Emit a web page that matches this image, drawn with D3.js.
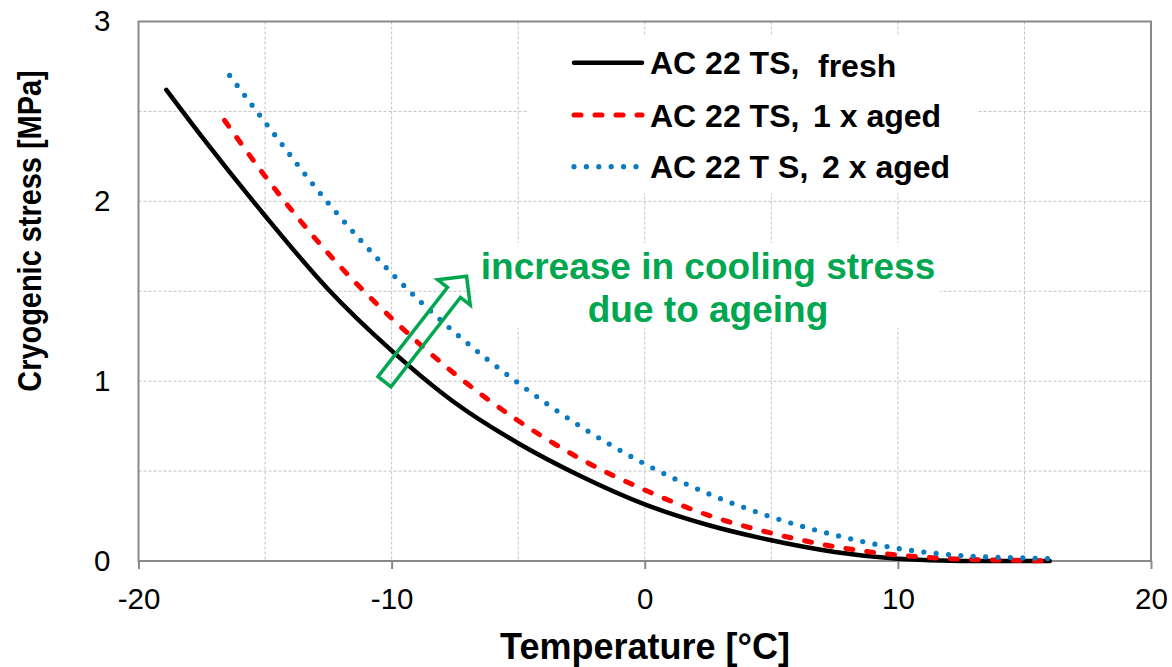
<!DOCTYPE html>
<html>
<head>
<meta charset="utf-8">
<script src="https://cdn.jsdelivr.net/npm/d3@7"></script>
<style>
  html, body { margin: 0; padding: 0; background: #fff; }
  svg { display: block; font-family: "Liberation Sans", Arial, sans-serif; }
</style>
</head>
<body>
<svg id="chart" width="1172" height="667"></svg>
<script>
// Cryogenic stress vs. temperature for AC 22 TS at three ageing states
const freshTemp = [-18.9, -17.5, -15, -12.5, -10, -7.5, -5, -2.5, 0, 2.5, 5, 7.5, 10, 12.5, 16];
const freshStress = [2.62, 2.36, 1.92, 1.51, 1.17, 0.88, 0.655, 0.47, 0.315, 0.2, 0.115, 0.05, 0.012, 0, 0];

const aged1Temp = [-16.6, -15, -12.5, -10, -7.5, -5, -2.5, 0, 2.5, 5, 7.5, 10, 12.5, 15, 16];
const aged1Stress = [2.45, 2.14, 1.71, 1.35, 1.04, 0.78, 0.565, 0.395, 0.255, 0.155, 0.08, 0.033, 0.01, 0.003, 0];

const aged2Temp = [-16.4, -15, -12.5, -10, -7.5, -5, -2.5, 0, 2.5, 5, 7.5, 10, 12.5, 15, 16];
const aged2Stress = [2.70, 2.44, 1.99, 1.60, 1.27, 0.99, 0.745, 0.54, 0.375, 0.245, 0.145, 0.07, 0.03, 0.017, 0.013];

const seriesLabels = ["AC 22 TS,", "AC 22 TS,", "AC 22 T S,"];
const seriesStates = ["fresh", "1 x aged", "2 x aged"];

const xTicks = [-20, -10, 0, 10, 20];
const xGrid = [-15, -10, -5, 0, 5, 10, 15];
const yTicks = [0, 1, 2, 3];
const yGrid = [0.5, 1, 1.5, 2, 2.5];

const note = ["increase in cooling stress", "due to ageing"];
const xTitle = "Temperature [°C]";
const yTitle = "Cryogenic stress [MPa]";

const svg = d3.select("#chart");
const plot = { left: 138.5, right: 1151, top: 21.5, bottom: 561 };

const x = d3.scaleLinear().domain([-20, 20]).range([plot.left, plot.right]);
const y = d3.scaleLinear().domain([0, 3]).range([plot.bottom, plot.top]);

const gridColor = "#c2c2c2";
const axisColor = "#898989";
const green = "#00A650";
const plainNumber = d => String(d);   // keeps the ASCII hyphen for negatives

// dashed grid
const grid = svg.append("g");
grid.selectAll("line.vx").data(xGrid).join("line")
  .attr("x1", d => x(d)).attr("x2", d => x(d))
  .attr("y1", plot.top).attr("y2", plot.bottom)
  .attr("stroke", gridColor).attr("stroke-width", 1).attr("stroke-dasharray", "3,2");
grid.selectAll("line.hy").data(yGrid).join("line")
  .attr("x1", plot.left).attr("x2", plot.right)
  .attr("y1", d => y(d)).attr("y2", d => y(d))
  .attr("stroke", gridColor).attr("stroke-width", 1).attr("stroke-dasharray", "3,2");

// x axis ticks and labels
const xAxis = svg.append("g")
  .attr("transform", `translate(0,${plot.bottom})`)
  .call(d3.axisBottom(x).tickValues(xTicks).tickSize(8).tickSizeOuter(0).tickPadding(19).tickFormat(plainNumber));
xAxis.select(".domain").remove();
xAxis.selectAll(".tick line").attr("stroke", axisColor).attr("stroke-width", 2);
xAxis.selectAll(".tick text").attr("font-size", 29.5).attr("fill", "#000")
  .attr("font-family", "'Liberation Sans', Arial, sans-serif");

// y axis labels
const yAxis = svg.append("g")
  .attr("transform", `translate(${plot.left},0)`)
  .call(d3.axisLeft(y).tickValues(yTicks).tickSize(0).tickPadding(28).tickFormat(plainNumber));
yAxis.select(".domain").remove();
yAxis.selectAll(".tick text").attr("font-size", 29.5).attr("fill", "#000")
  .attr("font-family", "'Liberation Sans', Arial, sans-serif");

// plot frame
svg.append("rect")
  .attr("x", plot.left).attr("y", plot.top)
  .attr("width", plot.right - plot.left).attr("height", plot.bottom - plot.top)
  .attr("fill", "none").attr("stroke", axisColor).attr("stroke-width", 2);

// white boxes behind legend and note
svg.append("rect").attr("x", 527).attr("y", 35).attr("width", 450).attr("height", 158).attr("fill", "#fff");
svg.append("rect").attr("x", 475).attr("y", 243).attr("width", 465).attr("height", 85).attr("fill", "#fff");

// curves
const line = d3.line().x(d => x(d[0])).y(d => y(d[1])).curve(d3.curveMonotoneX);
const styles = [
  { color: "#000000", width: 4.5, dash: null, cap: "round" },
  { color: "#FF0000", width: 5, dash: "7,14", cap: "round" },
  { color: "#0B7BC1", width: 5.2, dash: "0,12.4", cap: "round" }
];
const series = [
  d3.zip(freshTemp, freshStress),
  d3.zip(aged1Temp, aged1Stress),
  d3.zip(aged2Temp, aged2Stress)
];
series.forEach((pts, i) => {
  const s = styles[i];
  svg.append("path")
    .attr("d", line(pts))
    .attr("fill", "none")
    .attr("stroke", s.color)
    .attr("stroke-width", s.width)
    .attr("stroke-linecap", s.cap)
    .attr("stroke-linejoin", "round")
    .attr("stroke-dasharray", s.dash);
});

// legend
const legendRows = [
  { lineY: 62.7, textY: 73.5, stateX: 818, stateY: 76.5 },
  { lineY: 115, textY: 126.5, stateX: 813, stateY: 127 },
  { lineY: 166.7, textY: 177.5, stateX: 822, stateY: 178 }
];
legendRows.forEach((r, i) => {
  const s = styles[i];
  svg.append("line")
    .attr("x1", 574).attr("x2", 642).attr("y1", r.lineY).attr("y2", r.lineY)
    .attr("stroke", s.color).attr("stroke-width", s.width)
    .attr("stroke-linecap", s.cap).attr("stroke-dasharray", s.dash);
  svg.append("text")
    .attr("x", 650).attr("y", r.textY)
    .attr("font-size", 32).attr("font-weight", "bold").attr("fill", "#000")
    .text(seriesLabels[i]);
  svg.append("text")
    .attr("x", r.stateX).attr("y", r.stateY)
    .attr("font-size", 32).attr("font-weight", "bold").attr("fill", "#000")
    .text(seriesStates[i]);
});

// annotation text
svg.append("text").attr("x", 708).attr("y", 278.5)
  .attr("text-anchor", "middle").attr("font-size", 37).attr("font-weight", "bold")
  .attr("fill", green).text(note[0]);
svg.append("text").attr("x", 708).attr("y", 321.5)
  .attr("text-anchor", "middle").attr("font-size", 37).attr("font-weight", "bold")
  .attr("fill", green).text(note[1]);

// outlined block arrow pointing up-right
const arrowLen = 133.6, shaftHalf = 8.2, headHalf = 20.6, headLen = 20.5;
const arrowPts = [
  [0, -shaftHalf], [arrowLen - headLen, -shaftHalf], [arrowLen - headLen, -headHalf],
  [arrowLen, 0], [arrowLen - headLen, headHalf], [arrowLen - headLen, shaftHalf], [0, shaftHalf]
];
svg.append("path")
  .attr("d", d3.line()(arrowPts) + "Z")
  .attr("transform", "translate(384.5,381.7) rotate(-52.1)")
  .attr("fill", "none").attr("stroke", green).attr("stroke-width", 3.5)
  .attr("stroke-linejoin", "miter");

// axis titles
svg.append("text").attr("x", 645).attr("y", 659)
  .attr("text-anchor", "middle").attr("font-size", 36).attr("font-weight", "bold")
  .attr("fill", "#000").text(xTitle);
svg.append("text").attr("transform", "translate(41,231) rotate(-90) scale(0.89,1)")
  .attr("text-anchor", "middle").attr("font-size", 32.5).attr("font-weight", "bold")
  .attr("fill", "#000").text(yTitle);
</script>
</body>
</html>
